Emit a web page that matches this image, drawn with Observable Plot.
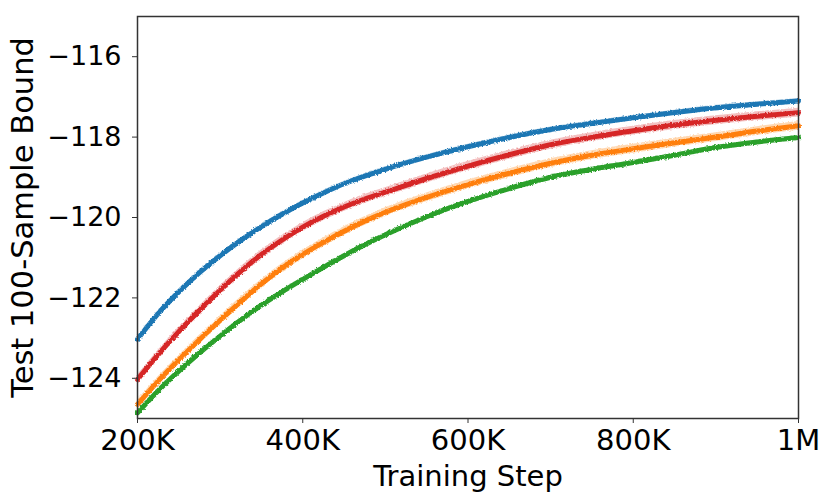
<!DOCTYPE html>
<html>
<head>
<meta charset="utf-8">
<script src="https://cdn.jsdelivr.net/npm/d3@7"></script>
<script src="https://cdn.jsdelivr.net/npm/@observablehq/plot@0.6"></script>
<style>
  html, body { margin: 0; padding: 0; background: #fff; }
  #chart svg { display: block; }
</style>
</head>
<body>
<div id="chart"></div>
<script>
// Training steps (x)
const steps = [200000, 225000, 250000, 275000, 300000, 325000, 350000, 375000, 400000, 425000, 450000, 475000, 500000,
               550000, 600000, 650000, 700000, 750000, 800000, 850000, 900000, 950000, 1000000];

// Series values (test 100-sample bound)
const blueVals   = [-123.03, -122.39, -121.85, -121.37, -120.95, -120.57, -120.23, -119.92, -119.64, -119.39, -119.16, -118.97, -118.80,
                    -118.50, -118.24, -118.01, -117.81, -117.66, -117.52, -117.39, -117.27, -117.18, -117.10];
const redVals    = [-124.03, -123.41, -122.84, -122.31, -121.81, -121.34, -120.92, -120.56, -120.24, -119.97, -119.74, -119.54, -119.37,
                    -119.03, -118.72, -118.44, -118.19, -118.00, -117.84, -117.70, -117.58, -117.48, -117.39];
const orangeVals = [-124.65, -124.07, -123.54, -123.04, -122.56, -122.09, -121.65, -121.26, -120.92, -120.62, -120.34, -120.09, -119.87,
                    -119.50, -119.18, -118.90, -118.65, -118.45, -118.29, -118.14, -118.00, -117.85, -117.72];
const greenVals  = [-124.86, -124.31, -123.82, -123.37, -122.95, -122.55, -122.18, -121.85, -121.54, -121.24, -120.95, -120.68, -120.43,
                    -119.98, -119.60, -119.28, -119.00, -118.80, -118.63, -118.45, -118.26, -118.12, -118.01];

// Half-width of the shaded spread around each series
const spreads = {blue: 0.06, red: 0.11, orange: 0.11, green: 0.05};

const xTicks = [200000, 400000, 600000, 800000, 1000000];
const xTickLabels = ["200K", "400K", "600K", "800K", "1M"];
const yTicks = [-124, -122, -120, -118, -116];

const colors = {blue: "#1f77b4", red: "#d62728", orange: "#ff7f0e", green: "#2ca02c"};
const seriesList = [
  {name: "green", values: greenVals},
  {name: "orange", values: orangeVals},
  {name: "red", values: redVals},
  {name: "blue", values: blueVals}
];

const rows = [];
for (const s of seriesList) {
  s.values.forEach((v, i) => rows.push({series: s.name, step: steps[i], v, lo: v - spreads[s.name], hi: v + spreads[s.name]}));
}

const font = "DejaVu Sans, sans-serif";

const marks = [];
for (const s of seriesList) {
  const d = rows.filter(r => r.series === s.name);
  marks.push(Plot.areaY(d, {x: "step", y1: "lo", y2: "hi", fill: colors[s.name], fillOpacity: 0.3, curve: "monotone-x", className: "band"}));
}
for (const s of seriesList) {
  const d = rows.filter(r => r.series === s.name);
  marks.push(Plot.line(d, {x: "step", y: "v", stroke: colors[s.name], strokeWidth: 5, curve: "monotone-x", className: "curve"}));
}

marks.push(
  Plot.frame({stroke: "#333", strokeWidth: 1.5}),
  Plot.axisX({ticks: xTicks, tickFormat: d => xTickLabels[xTicks.indexOf(d)], tickSize: 5, tickPadding: 6,
              fontSize: 29, label: null, stroke: "#333"}),
  Plot.axisY({ticks: yTicks, tickFormat: d => "\u2212" + Math.abs(d), tickSize: 5, tickPadding: 11,
              fontSize: 27, label: null, stroke: "#333"}),
  Plot.text(["Training Step"], {frameAnchor: "bottom", dy: 58, fontSize: 29, fill: "black", textAnchor: "middle", lineAnchor: "middle"}),
  Plot.text(["Test 100-Sample Bound"], {frameAnchor: "left", dx: -114, rotate: -90, fontSize: 30.5, fill: "black", textAnchor: "middle", lineAnchor: "middle"})
);

const chart = Plot.plot({
  width: 831,
  height: 503,
  marginLeft: 137,
  marginRight: 33,
  marginTop: 16,
  marginBottom: 85,
  style: {fontFamily: font, color: "black", background: "white", overflow: "visible"},
  x: {domain: [200000, 1000000]},
  y: {domain: [-125, -115]},
  marks
});

// Rough edge texture like the noisy training curves in the reference
const ns = "http://www.w3.org/2000/svg";
const defs = document.createElementNS(ns, "defs");
defs.innerHTML = `<filter id="rough" x="-5%" y="-5%" width="110%" height="110%">
  <feTurbulence type="fractalNoise" baseFrequency="0.6" numOctaves="2" seed="3" result="n"/>
  <feDisplacementMap in="SourceGraphic" in2="n" scale="3" xChannelSelector="R" yChannelSelector="G"/>
</filter>`;
chart.insertBefore(defs, chart.firstChild);
chart.querySelectorAll(".curve, .band").forEach(g => g.setAttribute("filter", "url(#rough)"));

document.getElementById("chart").appendChild(chart);
</script>
</body>
</html>
